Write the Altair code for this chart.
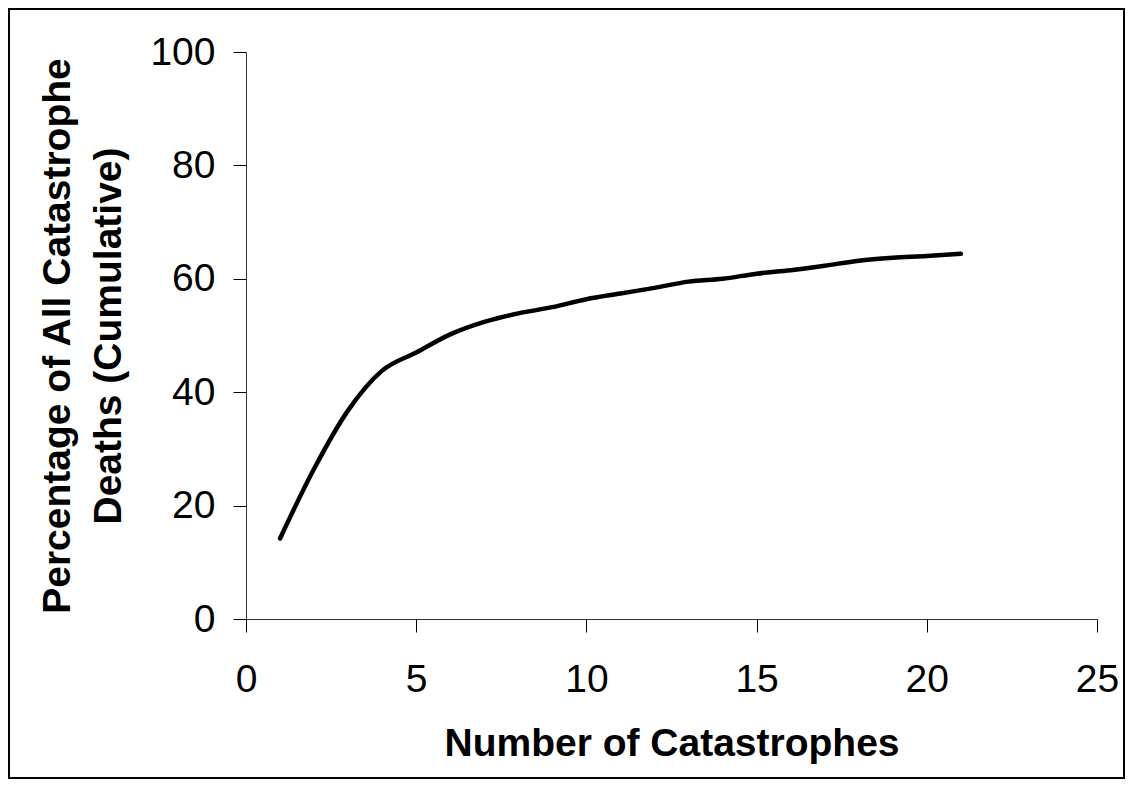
import altair as alt
import pandas as pd

# Data
num_catastrophes = [1, 2, 3, 4, 5, 6, 7, 8, 9, 10, 11, 12, 13, 14, 15, 16, 17, 18, 19, 20, 21]
pct_cumulative = [14.2, 26.5, 36.8, 43.8, 47.0, 50.2, 52.4, 53.9, 55.0, 56.4, 57.4, 58.4,
                  59.5, 60.0, 60.9, 61.5, 62.3, 63.2, 63.7, 64.0, 64.4]
x_ticks = [0, 5, 10, 15, 20, 25]
y_ticks = [0, 20, 40, 60, 80, 100]
x_title = "Number of Catastrophes"
y_title = ["Percentage of All Catastrophe", "Deaths (Cumulative)"]

df = pd.DataFrame({"n": num_catastrophes, "pct": pct_cumulative})

FONT = "Liberation Sans"
FS = 39
W, H = 851, 567

frame = alt.Chart(pd.DataFrame({"f": [0]})).mark_rect(
    fillOpacity=0, stroke="black", strokeWidth=2
).encode(
    x=alt.value(-237), x2=alt.value(878), y=alt.value(-43), y2=alt.value(726)
)

line = alt.Chart(df).mark_line(
    color="black", strokeWidth=4.5, interpolate="monotone",
    strokeCap="round", strokeJoin="round"
).encode(
    x=alt.X(
        "n:Q",
        scale=alt.Scale(domain=[0, 25], nice=False),
        axis=alt.Axis(
            values=x_ticks, title=x_title, grid=False,
            tickSize=13, tickColor="black", domainColor="#333333",
            labelPadding=28, labelFont=FONT, labelFontSize=FS, labelColor="black",
            labelFlush=False, labelOverlap=False,
            titleFont=FONT, titleFontSize=FS, titleFontWeight="bold", titleColor="black",
            titleBaseline="alphabetic", titleY=136,
        ),
    ),
    y=alt.Y(
        "pct:Q",
        scale=alt.Scale(domain=[0, 100], nice=False),
        axis=alt.Axis(
            values=y_ticks, title=y_title, grid=False,
            tickSize=13, tickColor="black", domainColor="#333333",
            labelPadding=18, labelFont=FONT, labelFontSize=FS, labelColor="black",
            labelOverlap=False,
            titleFont=FONT, titleFontSize=FS, titleFontWeight="bold", titleColor="black",
            titleAngle=270, titleAlign="center", titleBaseline="alphabetic",
            titleX=-177, titleY=H / 2, titleLineHeight=51,
        ),
    ),
)

chart = alt.layer(frame, line).properties(
    width=W, height=H,
    autosize=alt.AutoSizeParams(type="none"),
    padding={"left": 238, "top": 44, "right": 28, "bottom": 160},
    background="white",
).configure_view(stroke=None)

chart.save("out.html", embed_options={"renderer": "svg", "actions": False})
